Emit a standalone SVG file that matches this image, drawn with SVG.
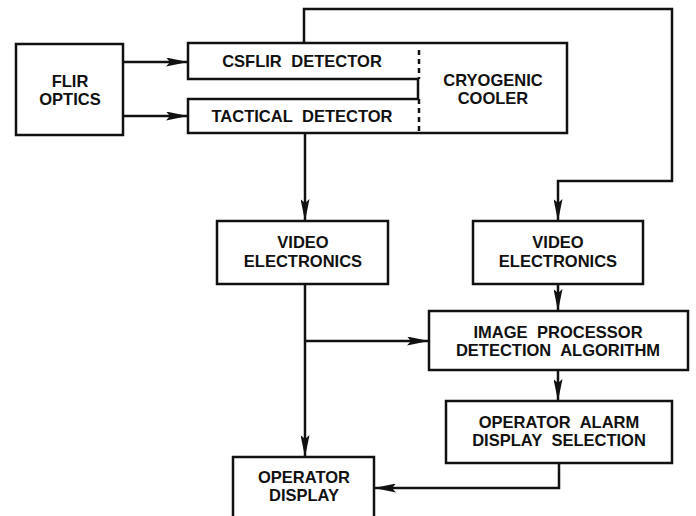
<svg xmlns="http://www.w3.org/2000/svg" width="696" height="516" viewBox="0 0 696 516">
<style>
.b{fill:#fff;stroke:#111;stroke-width:2.5}
.l{fill:none;stroke:#111;stroke-width:2.5}
.t{font-family:"Liberation Sans",Arial,sans-serif;font-weight:bold;font-size:16.5px;fill:#111;text-anchor:middle;word-spacing:5px}
</style>
<defs>
<marker id="a" viewBox="0 0 22 9" refX="22" refY="4.5" markerWidth="22" markerHeight="9" markerUnits="userSpaceOnUse" orient="auto">
<path d="M0,0 L22,4.5 L0,9 L4,4.5 Z" fill="#111"/>
</marker>
</defs>
<rect width="696" height="516" fill="#fff"/>
<g id="connectors">
<path class="l" d="M123,62 H188" marker-end="url(#a)"/>
<path class="l" d="M123,116 H188" marker-end="url(#a)"/>
<path class="l" d="M304,43 V9 H672 V181 H558 V221" marker-end="url(#a)"/>
<path class="l" d="M305,133 V221" marker-end="url(#a)"/>
<path class="l" d="M558,284 V311" marker-end="url(#a)"/>
<path class="l" d="M305,284 V457" marker-end="url(#a)"/>
<path class="l" d="M305,341 H429" marker-end="url(#a)"/>
<path class="l" d="M558,370 V401" marker-end="url(#a)"/>
<path class="l" d="M559,463 V488 H374" marker-end="url(#a)"/>
</g>
<g id="flir-optics">
<rect class="b" x="16" y="44" width="107" height="91"/>
<text class="t" x="70" y="86.5">FLIR</text>
<text class="t" x="70" y="104.5">OPTICS</text>
</g>
<g id="detector-cooler">
<path class="b" d="M188,43 H567 V133 H188 V99 H418 V79 H188 Z"/>
<path class="l" d="M419,50 V79 M419,99 V131" stroke-dasharray="5,4"/>
<text class="t" x="302" y="67">CSFLIR DETECTOR</text>
<text class="t" x="302" y="122">TACTICAL DETECTOR</text>
<text class="t" x="493" y="85.5">CRYOGENIC</text>
<text class="t" x="493" y="103.5">COOLER</text>
</g>
<g id="video-electronics-1">
<rect class="b" x="217" y="221" width="171" height="63"/>
<text class="t" x="303" y="247.5">VIDEO</text>
<text class="t" x="303" y="266.5">ELECTRONICS</text>
</g>
<g id="video-electronics-2">
<rect class="b" x="473" y="221" width="170" height="63"/>
<text class="t" x="558" y="247.5">VIDEO</text>
<text class="t" x="558" y="266.5">ELECTRONICS</text>
</g>
<g id="image-processor">
<rect class="b" x="429" y="311" width="259" height="59"/>
<text class="t" x="558" y="337.5">IMAGE PROCESSOR</text>
<text class="t" x="558" y="355.5">DETECTION ALGORITHM</text>
</g>
<g id="operator-alarm">
<rect class="b" x="446" y="401" width="226" height="62"/>
<text class="t" x="559" y="427.5">OPERATOR ALARM</text>
<text class="t" x="559" y="446">DISPLAY SELECTION</text>
</g>
<g id="operator-display">
<rect class="b" x="233" y="457" width="141" height="70"/>
<text class="t" x="304" y="482.5">OPERATOR</text>
<text class="t" x="304" y="501">DISPLAY</text>
</g>
</svg>
